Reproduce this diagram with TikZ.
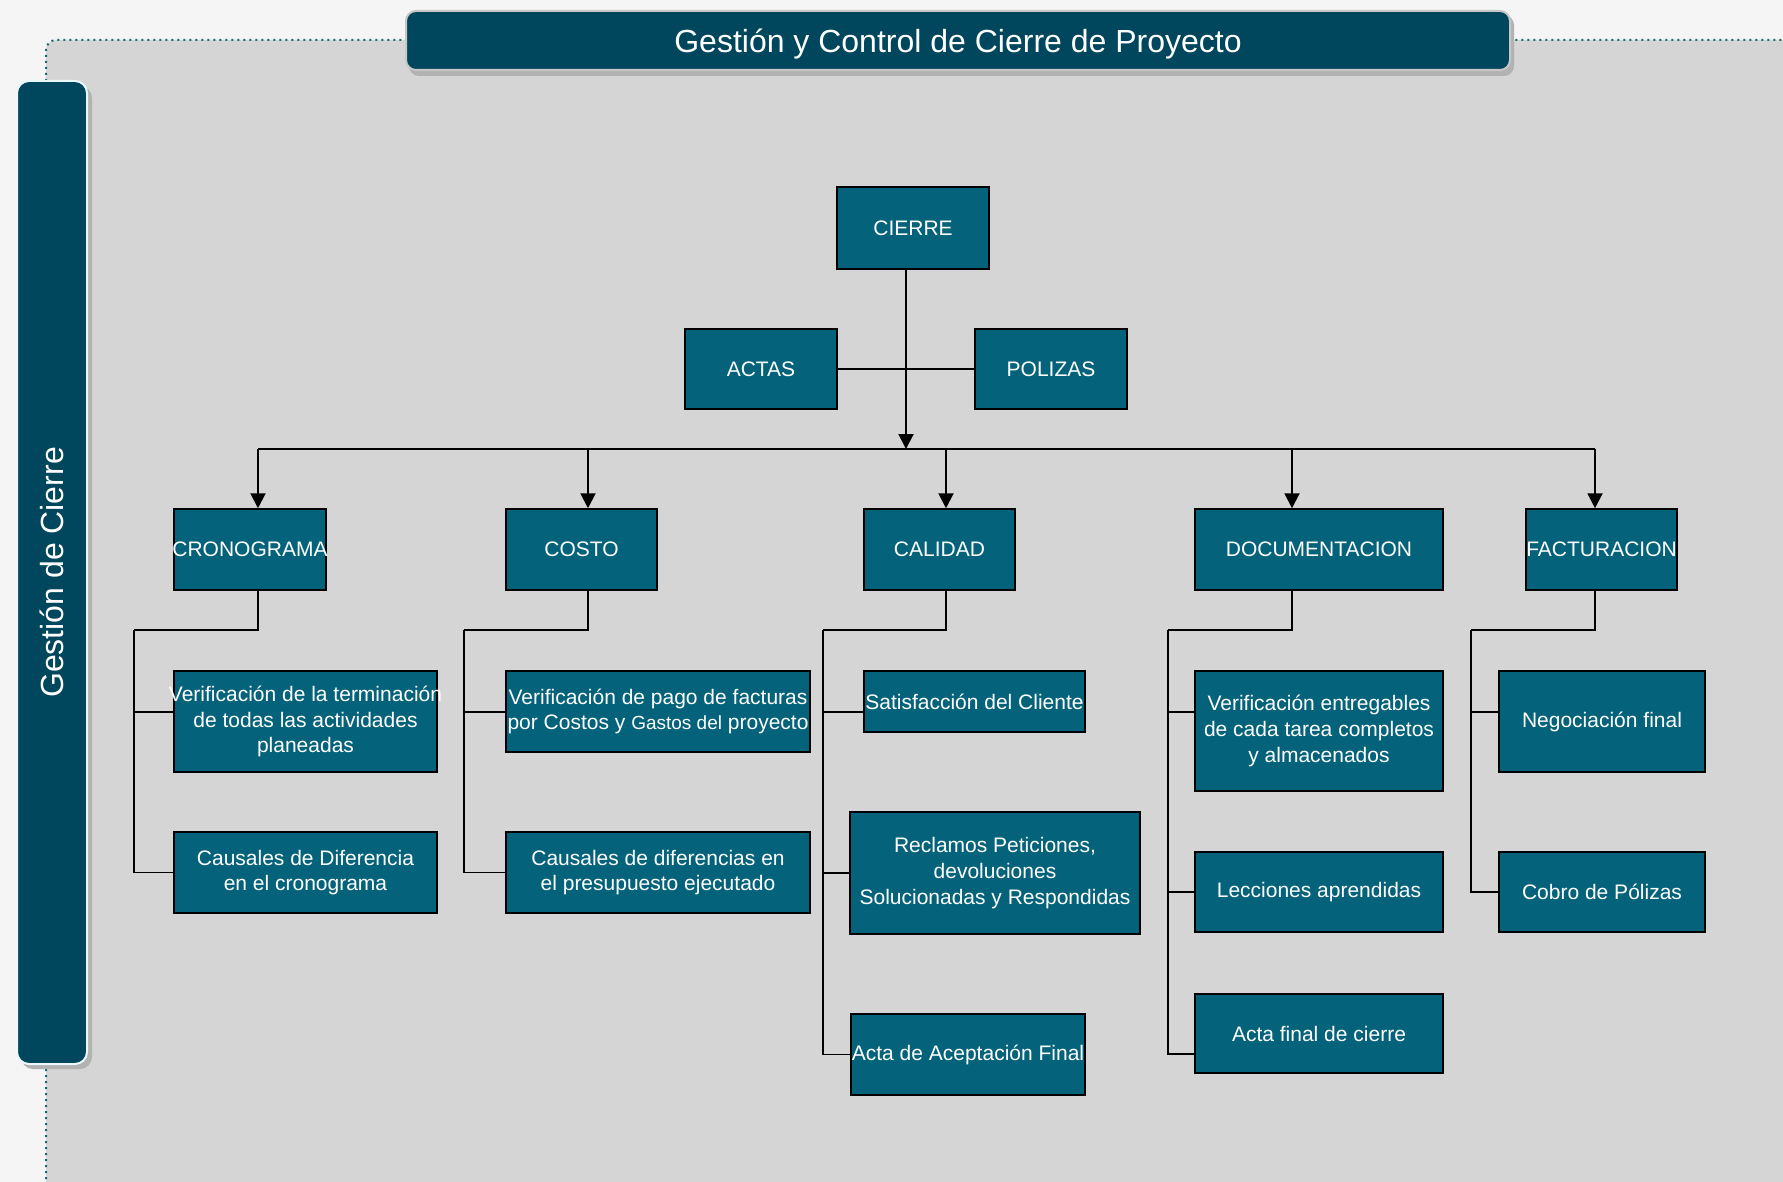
\documentclass[tikz,border=0pt]{standalone}
\usepackage{fontspec}
\setmainfont{Liberation Sans}
\usetikzlibrary{arrows.meta}

\definecolor{cajaazul}{RGB}{4,98,122}
\definecolor{barraazul}{RGB}{0,70,92}
\definecolor{fondogris}{RGB}{213,213,213}
\definecolor{bordeteal}{RGB}{22,104,114}

\tikzset{
  caja/.style={draw=black, line width=0.75pt, fill=cajaazul, text=white, align=center,
    inner xsep=-4pt, inner ysep=0pt, font=\fontsize{10.5}{12.8}\selectfont},
  linea/.style={line width=0.8pt},
  flecha/.style={line width=1pt, -{Triangle[width=7.5pt,length=7.5pt]}},
  barra/.style={fill=barraazul, text=white, rounded corners=5pt, inner sep=0pt,
    font=\fontsize{16}{19}\selectfont}
}

\begin{document}
\begin{tikzpicture}[x=0.5pt,y=-0.5pt]
\useasboundingbox (0,0) rectangle (1783,1182);
\clip (0,0) rectangle (1783,1182);
\fill[black!4] (0,0) rectangle (1783,1182);
% panel de fondo
\filldraw[fill=fondogris, draw=bordeteal, dotted, line width=1pt, rounded corners=5pt]
  (46,1195) -- (46,40) -- (1800,40) -- (1800,1195) -- cycle;

% barras de titulo
\fill[black!30, rounded corners=5pt] (409,15) rectangle (1514,76);
\node[barra, draw=black!22, line width=1pt, minimum width=552pt, minimum height=29.5pt, text depth=0pt] (titulo) at (958,40.5) {Gestión y Control de Cierre de Proyecto};
\fill[black!30, rounded corners=6pt] (21,86) rectangle (92,1069);
\node[barra, draw=cyan!8, line width=1pt, rounded corners=6pt, rotate=90, minimum width=491.5pt, minimum height=35pt] (lateral) at (52,572.5) {Gestión de Cierre};

% nivel 1
\node[caja, minimum width=76pt, minimum height=41pt] (cierre) at (913,228) {CIERRE};
\node[caja, minimum width=76pt, minimum height=40pt] (actas) at (761,369) {ACTAS};
\node[caja, minimum width=76pt, minimum height=40pt] (polizas) at (1051,369) {POLIZAS};

% nivel 2
\node[caja, minimum width=76pt, minimum height=40.5pt] (cron) at (250,549.5) {CRONOGRAMA};
\node[caja, minimum width=75.5pt, minimum height=40.5pt] (costo) at (581.5,549.5) {COSTO};
\node[caja, minimum width=75.5pt, minimum height=40.5pt] (cal) at (939.5,549.5) {CALIDAD};
\node[caja, minimum width=124pt, minimum height=40.5pt] (doc) at (1319,549.5) {DOCUMENTACION};
\node[caja, minimum width=75.5pt, minimum height=40.5pt] (fac) at (1601.5,549.5) {FACTURACION};

% nivel 3
\node[caja, minimum width=131.5pt, minimum height=50.5pt] (cronA) at (305.5,721.5) {Verificación de la terminación\\de todas las actividades\\planeadas};
\node[caja, minimum width=131.5pt, minimum height=40.5pt] (cronB) at (305.5,872.5) {Causales de Diferencia\\en el cronograma};
\node[caja, minimum width=152pt, minimum height=40.5pt] (costoA) at (658,711.5) {Verificación de pago de facturas\\por Costos y {\fontsize{9.5}{12.8}\selectfont Gastos del} proyecto};
\node[caja, minimum width=152pt, minimum height=40.5pt] (costoB) at (658,872.5) {Causales de diferencias en\\el presupuesto ejecutado};
\node[caja, minimum width=110.5pt, minimum height=30.5pt] (calA) at (974.5,701.5) {Satisfacción del Cliente};
\node[caja, minimum width=145pt, minimum height=61pt] (calB) at (995,873) {Reclamos Peticiones,\\devoluciones\\Solucionadas y Respondidas};
\node[caja, minimum width=117pt, minimum height=40.5pt] (calC) at (968,1054.5) {Acta de Aceptación Final};
\node[caja, minimum width=124pt, minimum height=60pt] (docA) at (1319,731) {Verificación entregables\\de cada tarea completos\\y almacenados};
\node[caja, minimum width=124pt, minimum height=40pt] (docB) at (1319,892) {Lecciones aprendidas};
\node[caja, minimum width=124pt, minimum height=39.5pt] (docC) at (1319,1033.5) {Acta final de cierre};
\node[caja, minimum width=103pt, minimum height=50.5pt] (facA) at (1602,721.5) {Negociación final};
\node[caja, minimum width=103pt, minimum height=40pt] (facB) at (1602,892) {Cobro de Pólizas};

% puntos de las conexiones
\coordinate (mainX) at (906,449);
\coordinate (cronX) at (258,449);
\coordinate (costoX) at (588,449);
\coordinate (calX) at (946,449);
\coordinate (docX) at (1292,449);
\coordinate (facX) at (1595,449);
\coordinate (cronK) at (134,630);
\coordinate (costoK) at (464,630);
\coordinate (calK) at (823,630);
\coordinate (docK) at (1168,630);
\coordinate (facK) at (1471,630);
\coordinate (fila1) at (0,712);
\coordinate (fila3) at (0,1054);

\draw[flecha] (mainX |- cierre.south) -- (mainX);
\draw[linea] (actas.east) -- (polizas.west);
\draw[linea] (cronX) -- (facX);
\foreach \g in {cron,costo,cal,doc,fac}{
  \draw[flecha] (\g X) -- (\g X |- \g.north);
  \draw[linea] (\g X |- \g.south) |- (\g K);
  \draw[linea] (\g K |- fila1) -- (\g A.west |- fila1);
}
\draw[linea] (cronK) |- (cronB.west);
\draw[linea] (costoK) |- (costoB.west);
\draw[linea] (calK) |- (calC.west);
\draw[linea] (calK |- calB.west) -- (calB.west);
\draw[linea] (docK) |- (docC.west |- fila3);
\draw[linea] (docK |- docB.west) -- (docB.west);
\draw[linea] (facK) |- (facB.west);
\end{tikzpicture}
\end{document}
